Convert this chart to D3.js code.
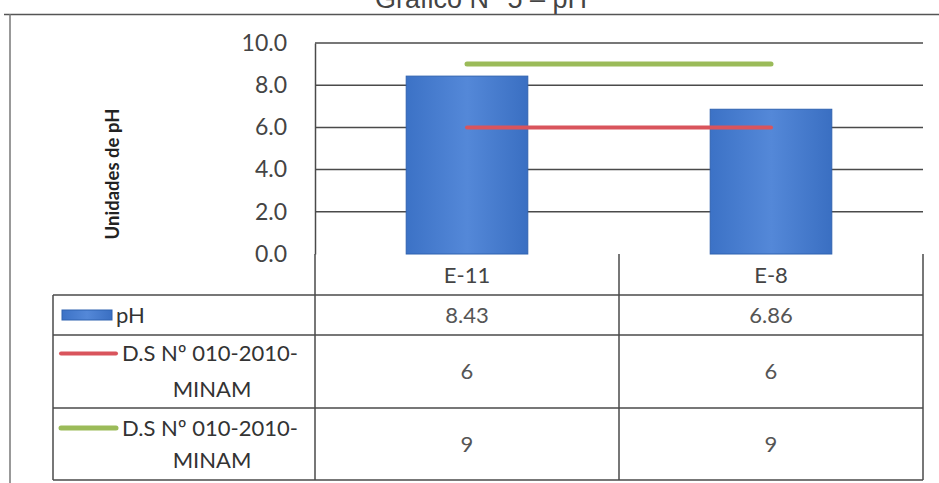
<!DOCTYPE html>
<html><head><meta charset="utf-8">
<script src="https://cdn.jsdelivr.net/npm/d3@7"></script>
<style>body{margin:0;background:#fff;}svg{display:block;}</style>
</head><body>
<svg id="c" width="939" height="483"></svg>
<script>
const titleText = "Gráfico N° 5 – pH";
const yTitle = "Unidades de pH";
const categories = ["E-11", "E-8"];
const phValues = [8.43, 6.86];
const limitMin = [6, 6];
const limitMax = [9, 9];
const yTicks = [0, 2, 4, 6, 8, 10];
const seriesNames = ["pH", "D.S Nº 010-2010-|MINAM", "D.S Nº 010-2010-|MINAM"];
const tableValues = [["8.43", "6.86"], ["6", "6"], ["9", "9"]];

const svg = d3.select("#c");
const font = "Lato, 'Open Sans', sans-serif";
const L = 315, R = 923, T = 43, B = 254;
const x = d3.scaleBand().domain(categories).range([L, R]).padding(0);
const y = d3.scaleLinear().domain([0, 10]).range([B, T]);
const lineCol = "#4a4a4a";
const fs = 22;

const defs = svg.append("defs");
const g1 = defs.append("linearGradient").attr("id", "barG").attr("x1", 0).attr("x2", 1).attr("y1", 0).attr("y2", 0);
g1.append("stop").attr("offset", "0%").attr("stop-color", "#3c72c6");
g1.append("stop").attr("offset", "50%").attr("stop-color", "#5488d8");
g1.append("stop").attr("offset", "100%").attr("stop-color", "#3a6fc2");

// title (clipped at top, as in the reference)
svg.append("text").attr("x", 481).attr("y", 8).attr("text-anchor", "middle")
  .attr("font-family", "Arial, 'Liberation Sans', sans-serif").attr("font-size", 27)
  .attr("fill", "#444").text(titleText);

// outer frame
svg.append("line").attr("x1", 4).attr("x2", 939).attr("y1", 14.5).attr("y2", 14.5).attr("stroke", "#555").attr("stroke-width", 1.5);
svg.append("line").attr("x1", 10).attr("x2", 10).attr("y1", 14).attr("y2", 483).attr("stroke", "#777").attr("stroke-width", 1.5);

// gridlines
svg.append("g").selectAll("line").data(yTicks.filter(d => d > 0)).join("line")
  .attr("x1", L).attr("x2", R).attr("y1", d => y(d)).attr("y2", d => y(d))
  .attr("stroke", lineCol).attr("stroke-width", 1.5);

// y axis
const yAxis = d3.axisLeft(y).tickValues(yTicks).tickFormat(d3.format(".1f")).tickSize(0).tickPadding(28);
const ya = svg.append("g").attr("transform", `translate(${L},0)`).call(yAxis);
ya.select(".domain").attr("stroke", lineCol).attr("stroke-width", 1.5);
ya.selectAll("text").attr("font-family", font).attr("font-size", 23).attr("fill", "#444");

// y title
svg.append("text").attr("transform", "translate(119,174) rotate(-90)").attr("text-anchor", "middle")
  .attr("font-family", font).attr("font-weight", "bold").attr("font-size", 18.5).attr("fill", "#222").text(yTitle);

// bars
const bw = x.bandwidth() * 0.4;
svg.append("g").selectAll("rect").data(phValues).join("rect")
  .attr("x", (d, i) => x(categories[i]) + (x.bandwidth() - bw) / 2)
  .attr("y", d => y(d)).attr("width", bw).attr("height", d => y(0) - y(d))
  .attr("fill", "url(#barG)").attr("stroke", "#2f62b0").attr("stroke-width", 1);

// limit lines
const cx = (i) => x(categories[i]) + x.bandwidth() / 2;
const lineGen = d3.line().x((d, i) => cx(i)).y(d => y(d));
svg.append("path").attr("d", lineGen(limitMax)).attr("stroke", "#9bbb59").attr("stroke-width", 5).attr("stroke-linecap", "round").attr("fill", "none");
svg.append("path").attr("d", lineGen(limitMin)).attr("stroke", "#d9545c").attr("stroke-width", 4).attr("stroke-linecap", "round").attr("fill", "none");

// data table
const rowTops = [295, 335, 408, 480];
const tL = 53;
const tg = svg.append("g").attr("stroke", lineCol).attr("stroke-width", 1.5).attr("fill", "none");
tg.append("line").attr("x1", R).attr("x2", R).attr("y1", B).attr("y2", rowTops[3]);
categories.forEach((c) => {
  tg.append("line").attr("x1", x(c)).attr("x2", x(c)).attr("y1", B).attr("y2", rowTops[3]);
});
rowTops.forEach((yy) => {
  tg.append("line").attr("x1", tL).attr("x2", R).attr("y1", yy).attr("y2", yy);
});
tg.append("line").attr("x1", tL).attr("x2", tL).attr("y1", rowTops[0]).attr("y2", rowTops[3]);

// header labels
svg.append("g").selectAll("text").data(categories).join("text")
  .attr("x", (d, i) => cx(i)).attr("y", 275).attr("dy", "0.35em").attr("text-anchor", "middle")
  .attr("font-family", font).attr("font-size", fs).attr("fill", "#444").text(d => d);

// row values
tableValues.forEach((row, r) => {
  const yc = (rowTops[r] + rowTops[r + 1]) / 2;
  svg.append("g").selectAll("text").data(row).join("text")
    .attr("x", (d, i) => cx(i)).attr("y", yc).attr("dy", "0.35em").attr("text-anchor", "middle")
    .attr("font-family", font).attr("font-size", fs).attr("fill", "#555").text(d => d);
});

// legend keys + names
const keyColors = ["#4a80d6", "#d9545c", "#9bbb59"];
seriesNames.forEach((name, r) => {
  const yc = (rowTops[r] + rowTops[r + 1]) / 2;
  const parts = name.split("|");
  if (r === 0) {
    svg.append("rect").attr("x", 62).attr("y", yc - 5).attr("width", 50).attr("height", 10)
      .attr("fill", "url(#barG)").attr("stroke", "#2f62b0");
    svg.append("text").attr("x", 116).attr("y", yc).attr("dy", "0.35em")
      .attr("font-family", font).attr("font-size", fs).attr("fill", "#333").text(parts[0]);
  } else {
    const off = r === 1 ? 18 : 16;
    const ky = yc - off;
    svg.append("line").attr("x1", 61).attr("x2", 116).attr("y1", ky).attr("y2", ky)
      .attr("stroke", keyColors[r]).attr("stroke-width", r === 2 ? 5 : 4).attr("stroke-linecap", "round");
    const t = svg.append("text").attr("text-anchor", "middle")
      .attr("font-family", font).attr("font-size", fs).attr("fill", "#333");
    t.append("tspan").attr("x", 210).attr("y", yc - off).attr("dy", "0.35em").text(parts[0]);
    t.append("tspan").attr("x", 212).attr("y", yc + off).attr("dy", "0.35em").text(parts[1]);
  }
});
</script>
</body></html>
